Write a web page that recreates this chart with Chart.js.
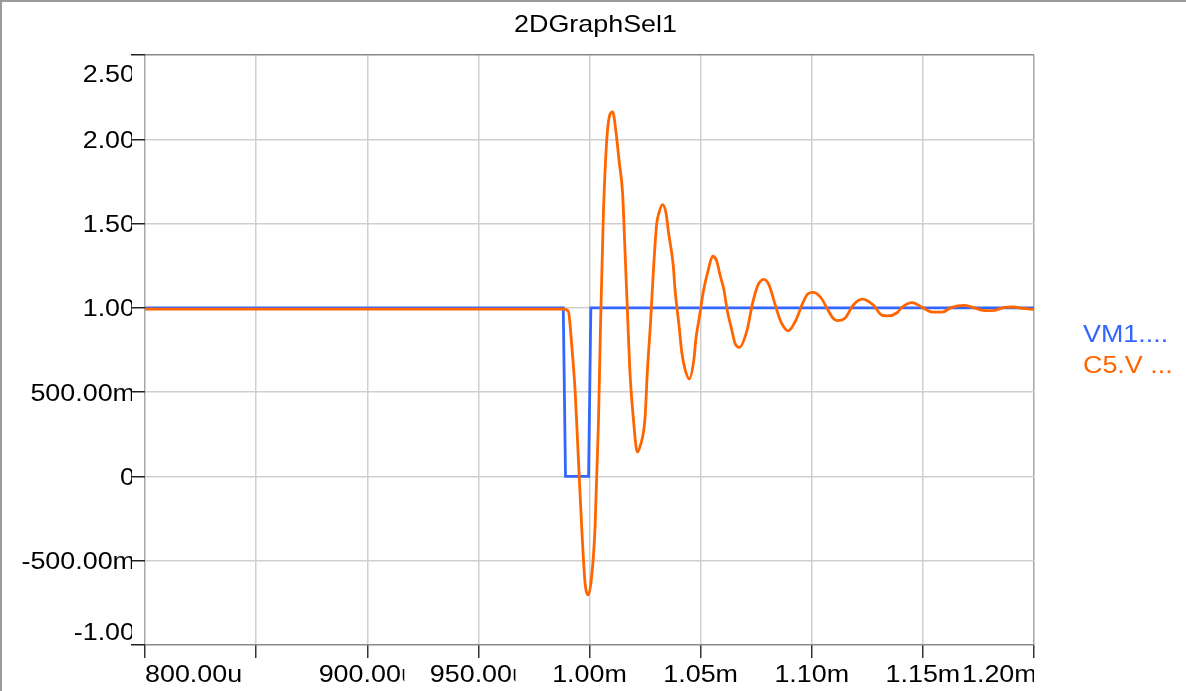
<!DOCTYPE html>
<html>
<head>
<meta charset="utf-8">
<script src="https://cdn.jsdelivr.net/npm/chart.js@4.4.1/dist/chart.umd.min.js"></script>
<style>
  html, body { margin: 0; padding: 0; background: #ffffff; }
  #wrap { width: 1186px; height: 691px; position: relative; }
</style>
</head>
<body>
<div id="wrap"><canvas id="c" width="1186" height="691"></canvas></div>
<script>
// ---- data (time in microseconds, values in volts) ----
const chartTitle = "2DGraphSel1";
const seriesNames = ["VM1....", "C5.V ..."];
const seriesColors = ["#3366ff", "#ff6600"];

const tBlue = [800, 988.2, 989.2, 999.6, 1000.6, 1200];
const vBlue = [1, 1, 0, 0, 1, 1];

const tOrange = [800, 988.5, 990.5, 992.0, 993.5, 995.0, 996.5, 998.0, 999.5, 1001.0, 1002.5, 1004.0, 1005.0, 1006.2, 1007.7, 1009.2, 1010.4, 1011.9, 1013.4, 1014.9, 1016.0, 1017.0, 1018.2, 1019.7, 1021.5, 1022.7, 1025.0, 1026.0, 1027.5, 1028.7, 1030.2, 1031.3, 1032.8, 1034.4, 1035.5, 1037.7, 1038.5, 1040.4, 1041.5, 1043.0, 1044.9, 1047.0, 1047.9, 1049.4, 1051.2, 1053.5, 1055.4, 1057.2, 1058.7, 1060.5, 1062.0, 1064.0, 1065.5, 1067.4, 1070.9, 1073.2, 1075.8, 1078.5, 1080.8, 1083.8, 1086.1, 1089.4, 1092.9, 1095.9, 1098.2, 1100.8, 1104.3, 1107.3, 1109.6, 1111.4, 1114.9, 1118.7, 1122.7, 1127.7, 1131.5, 1134.3, 1138.4, 1140.6, 1145.2, 1149.7, 1154.2, 1158.8, 1162.6, 1168.6, 1172.4, 1177.0, 1179.3, 1182.3, 1186.8, 1190.6, 1195.1, 1200];
const vOrange = [0.993, 0.993, 0.979, 0.778, 0.513, 0.104, -0.304, -0.631, -0.702, -0.590, -0.304, 0.308, 0.922, 1.535, 1.984, 2.147, 2.163, 2.045, 1.862, 1.678, 1.330, 1.003, 0.615, 0.349, 0.145, 0.176, 0.349, 0.615, 0.922, 1.208, 1.494, 1.565, 1.612, 1.565, 1.453, 1.249, 1.106, 0.881, 0.738, 0.635, 0.578, 0.697, 0.819, 0.942, 1.095, 1.228, 1.306, 1.279, 1.197, 1.106, 0.983, 0.870, 0.789, 0.766, 0.868, 1.017, 1.135, 1.169, 1.135, 1.007, 0.918, 0.864, 0.928, 1.027, 1.082, 1.092, 1.057, 0.987, 0.938, 0.924, 0.938, 1.017, 1.052, 1.017, 0.957, 0.952, 0.971, 1.003, 1.031, 1.003, 0.975, 0.975, 1.001, 1.015, 1.003, 0.985, 0.983, 0.985, 1.003, 1.005, 0.997, 0.991];

const xTickValues = [800, 850, 900, 950, 1000, 1050, 1100, 1150, 1200];
const xTickLabels = ["800.00u", "850.00u", "900.00u", "950.00u", "1.00m", "1.05m", "1.10m", "1.15m", "1.20m"];
const yTickValues = [2.5, 2.0, 1.5, 1.0, 0.5, 0, -0.5, -1.0];
const yTickLabels = ["2.50", "2.00", "1.50", "1.00", "500.00m", "0", "-500.00m", "-1.00"];

// ---- drawing ----
const FONT = '24px "Liberation Sans", Arial, sans-serif';
const SX = 1.12;

function drawText(ctx, s, x, y, align, color, clipL, clipR, H) {
  ctx.save();
  ctx.beginPath();
  ctx.rect(clipL, 0, clipR - clipL, H);
  ctx.clip();
  ctx.translate(x, y);
  ctx.scale(SX, 1);
  ctx.font = FONT;
  ctx.fillStyle = color;
  ctx.textAlign = align;
  ctx.textBaseline = 'alphabetic';
  ctx.fillText(s, 0, 0);
  ctx.restore();
}

const textPlugin = {
  id: 'textPlugin',
  afterDraw(chart) {
    const ctx = chart.ctx;
    const xs = chart.scales.x, ys = chart.scales.y;
    const ca = chart.chartArea;
    const W = chart.width, H = chart.height;

    // outer frame (top + left)
    ctx.save();
    ctx.strokeStyle = '#9a9a9a';
    ctx.lineWidth = 2;
    ctx.beginPath();
    ctx.moveTo(0, 1); ctx.lineTo(W, 1);
    ctx.moveTo(1, 0); ctx.lineTo(1, H);
    ctx.stroke();
    ctx.restore();

    // title
    drawText(ctx, chartTitle, (ca.left + ca.right) / 2 + 6, 32, 'center', '#000', 0, 679, H);

    // y tick labels
    ctx.save(); ctx.font = FONT; ctx.restore();
    yTickValues.forEach((v, i) => {
      let py = ys.getPixelForValue(v);
      if (i === 0) py += 18;
      if (i === yTickValues.length - 1) py -= 14;
      drawText(ctx, yTickLabels[i], 135, py + 8.5, 'right', '#000', 0, 132, H);
    });

    // x tick labels
    ctx.save();
    ctx.font = FONT;
    let prevRight = -1e9;
    xTickValues.forEach((v, i) => {
      const px = xs.getPixelForValue(v);
      const s = xTickLabels[i];
      const w = ctx.measureText(s).width * SX;
      let left, align, x, clipR;
      if (i === 0) {
        left = px; align = 'left'; x = px; clipR = px + w + 2;
      } else if (i === xTickValues.length - 1) {
        left = px - 72; align = 'left'; x = left; clipR = px;
      } else {
        left = px - w / 2; align = 'center'; x = px; clipR = px + 37;
      }
      if (i !== xTickValues.length - 1 && left < prevRight) return;
      drawText(ctx, s, x, 682, align, '#000', left - 2, clipR, H);
      prevRight = clipR;
    });
    ctx.restore();

    // legend
    drawText(ctx, seriesNames[0], 1083, 342, 'left', seriesColors[0], 0, W, H);
    drawText(ctx, seriesNames[1], 1083, 373, 'left', seriesColors[1], 0, W, H);
  }
};

const blueData = tBlue.map((t, i) => ({ x: t, y: vBlue[i] }));
const orangeData = tOrange.map((t, i) => ({ x: t, y: vOrange[i] }));

new Chart(document.getElementById('c'), {
  type: 'line',
  data: {
    datasets: [
      { label: seriesNames[0], data: blueData, borderColor: seriesColors[0], borderWidth: 2.8,
        pointRadius: 0, tension: 0, fill: false, order: 2 },
      { label: seriesNames[1], data: orangeData, borderColor: seriesColors[1], borderWidth: 2.8,
        pointRadius: 0, cubicInterpolationMode: 'monotone', fill: false, order: 1 }
    ]
  },
  options: {
    responsive: false,
    animation: false,
    devicePixelRatio: 1,
    layout: { padding: { left: 0, top: 55, right: 152, bottom: 0 } },
    plugins: { legend: { display: false }, title: { display: false }, tooltip: { enabled: false } },
    scales: {
      x: {
        type: 'linear', min: 800, max: 1200,
        afterBuildTicks: (s) => { s.ticks = xTickValues.map(v => ({ value: v })); },
        afterFit: (s) => { s.height = 46; },
        ticks: { display: false },
        border: { display: false },
        grid: {
          color: (c) => (c.index === 0 || c.index === xTickValues.length - 1) ? '#a8a8a8' : '#cfcfcf',
          lineWidth: 1.5,
          tickLength: 13,
          tickColor: '#333',
          tickWidth: 1.5
        }
      },
      y: {
        type: 'linear', min: -1, max: 2.5,
        afterBuildTicks: (s) => { s.ticks = yTickValues.slice().reverse().map(v => ({ value: v })); },
        afterFit: (s) => { s.width = 145; },
        ticks: { display: false },
        border: { display: false },
        grid: {
          color: (c) => (c.index === 0 || c.index === yTickValues.length - 1) ? '#8a8a8a' : '#cfcfcf',
          lineWidth: 1.5,
          tickLength: 14,
          tickColor: '#222',
          tickWidth: 1.5
        }
      }
    }
  },
  plugins: [textPlugin]
});
</script>
</body>
</html>
